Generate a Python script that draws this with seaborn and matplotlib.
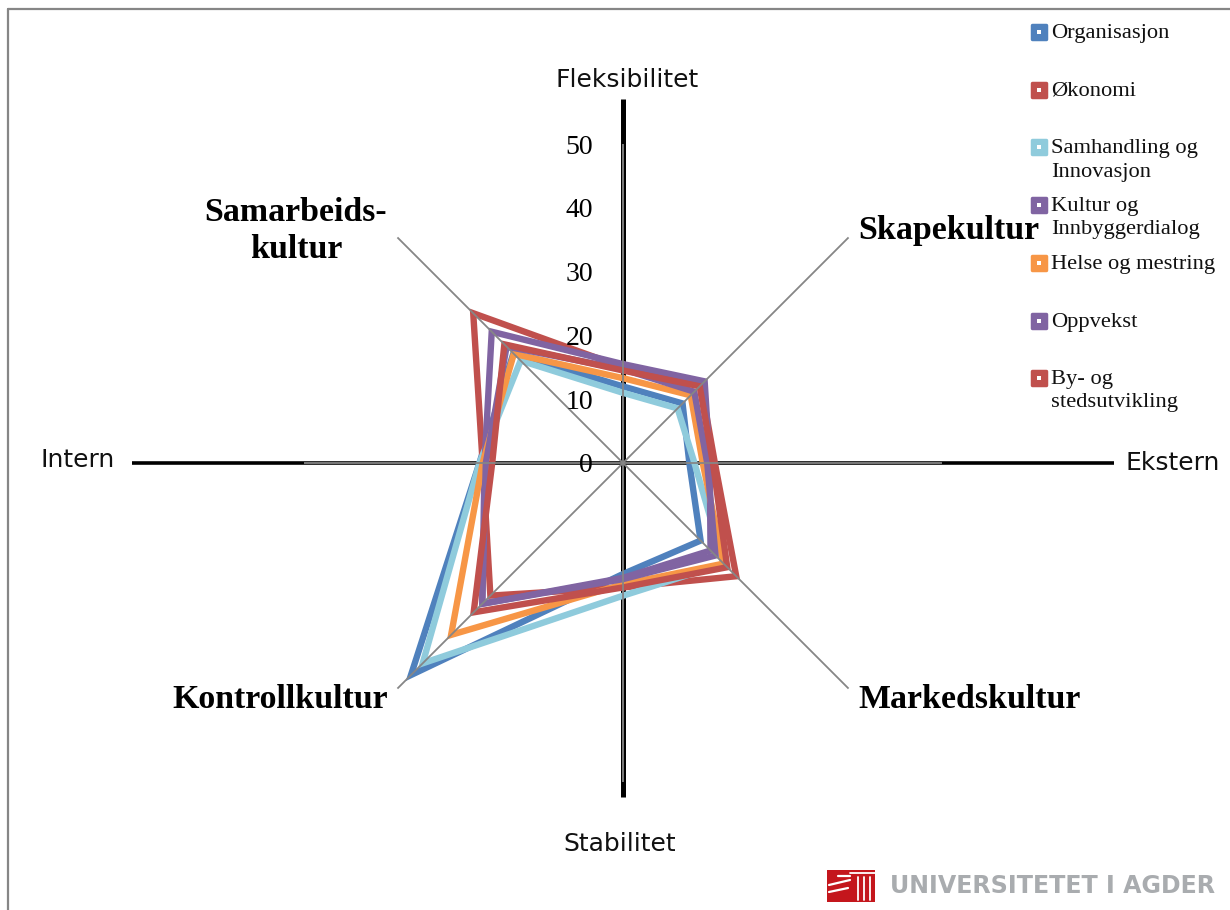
import numpy as np
import pandas as pd
import seaborn as sns
import matplotlib.pyplot as plt
from matplotlib.lines import Line2D
from matplotlib.markers import MarkerStyle
from matplotlib.patches import Rectangle

# Retningene rundt diagrammet, med klokka fra toppen
vinkler = [0, 45, 90, 135, 180, 225, 270, 315]

serier = ['Organisasjon', 'Økonomi', 'Samhandling og\nInnovasjon', 'Kultur og\nInnbyggerdialog',
          'Helse og mestring', 'Oppvekst', 'By- og\nstedsutvikling']
farger = ['#4F81BD', '#C0504D', '#8FCBDC', '#8064A2', '#F79646', '#8064A2', '#C0504D']

organisasjon = [12.0, 13.2, 10.4, 17.2, 17.4, 47.0, 22.5, 24.3]
okonomi = [15.0, 17.3, 14.4, 25.1, 19.5, 29.4, 22.0, 33.2]
samhandling = [11.0, 12.1, 11.2, 22.3, 20.8, 44.4, 22.5, 22.7]
kultur = [15.5, 18.1, 13.6, 19.4, 18.0, 31.2, 21.7, 29.1]
helse = [13.3, 15.0, 12.5, 22.3, 19.0, 38.1, 22.0, 24.2]
oppvekst = [14.7, 15.8, 13.2, 20.5, 18.2, 31.2, 21.5, 25.8]
by = [14.5, 17.0, 14.1, 23.1, 19.5, 33.1, 20.5, 26.3]
verdier = [organisasjon, okonomi, samhandling, kultur, helse, oppvekst, by]

r_ticks = [0, 10, 20, 30, 40, 50]

# Lang tabell, siste punkt lukker polygonet
rader = []
for navn, vals in zip(serier, verdier):
    for v, r in zip(vinkler + [360], vals + vals[:1]):
        rader.append({'vinkel': np.deg2rad(v), 'verdi': r, 'serie': navn})
df = pd.DataFrame(rader)

sns.set_theme(style='white')
plt.rcParams['font.family'] = ['Liberation Serif', 'DejaVu Serif']

W, H = 1230, 910
fig = plt.figure(figsize=(W / 100, H / 100), dpi=100)


def px(x, y):
    return x / W, 1 - y / H


# Senter (623, 463), 6.38 piksler per enhet
cx, cy, skala = 623, 463, 6.38
rmax = 80
rad = rmax * skala
ax = fig.add_axes([(cx - rad) / W, (H - cy - rad) / H, 2 * rad / W, 2 * rad / H], projection='polar')
ax.set_theta_zero_location('N')
ax.set_theta_direction(-1)
ax.set_ylim(0, rmax)
ax.grid(False)
ax.axis('off')

# Svarte akser under seriene
for v, lengde in [(0, 57), (90, 77), (180, 52.4), (270, 77)]:
    bredde = 3.6 if v in (0, 180) else 2.6
    ax.plot([np.deg2rad(v)] * 2, [0, lengde], color='black', lw=bredde, zorder=1, solid_capstyle='butt')

sns.lineplot(data=df, x='vinkel', y='verdi', hue='serie', hue_order=serier, palette=farger,
             sort=False, estimator=None, legend=False, ax=ax, lw=4.6, zorder=3,
             solid_joinstyle='miter')
ax.set_xlabel('')
ax.set_ylabel('')

# Grå eiker over seriene
for v in vinkler:
    ax.plot([np.deg2rad(v)] * 2, [0, 50], color='#868686', lw=1.3, zorder=4, solid_capstyle='butt')

for t in r_ticks:
    ax.annotate(str(t), xy=(0, t), xytext=(-30, -3), textcoords='offset pixels', ha='right', va='center',
                fontsize=20, color='black', zorder=5)

# Akseoverskrifter
akser = [('Fleksibilitet', 627, 80), ('Intern', 78, 460), ('Ekstern', 1173, 463), ('Stabilitet', 620, 844)]
for tekst, x, y in akser:
    fig.text(*px(x, y), tekst, ha='center', va='center', fontsize=18, family='DejaVu Sans', color='#111111')

kulturer = [('Samarbeids-\nkultur', 296, 231, 'center'), ('Skapekultur', 858, 231, 'left'),
            ('Markedskultur', 858, 700, 'left'), ('Kontrollkultur', 388, 700, 'right')]
for tekst, x, y, ha in kulturer:
    fig.text(*px(x, y), tekst, ha=ha, va='center', ma='center', fontsize=24.4, fontweight='bold', color='black',
             linespacing=1.25)

# Tegnforklaring
for i, (navn, farge) in enumerate(zip(serier, farger)):
    y = 32 + i * 57.7
    x0, y0 = px(1039, y)
    stil = MarkerStyle('s', joinstyle='round')
    fig.add_artist(Line2D([x0], [y0], marker=stil, ms=10, mfc=farge, mec=farge, mew=2.5, ls='none'))
    fig.add_artist(Line2D([x0], [y0], marker='s', ms=3.4, mfc='white', mec='white', mew=0, ls='none'))
    fig.text(*px(1051, y - 8), navn, ha='left', va='top', fontsize=16.2, color='#111111', linespacing=1.3)

# Ramme
ramme = '#868686'
fig.add_artist(Line2D([px(8, 0)[0], px(8, 0)[0]], [px(0, 9)[1], 0], color=ramme, lw=1.6))
fig.add_artist(Line2D([px(8, 0)[0], 1], [px(0, 9)[1], px(0, 9)[1]], color=ramme, lw=1.6))

# Logo
lx, ly = px(827, 902)
fig.add_artist(Rectangle((lx, ly), 48 / W, 32 / H, transform=fig.transFigure, color='#C4161C', lw=0))
for x1, y1, x2, y2 in [(858, 877, 858, 900), (864, 877, 864, 900), (870, 877, 870, 900), (850, 873, 875, 873)]:
    fig.add_artist(Line2D([px(x1, y1)[0], px(x2, y2)[0]], [px(x1, y1)[1], px(x2, y2)[1]], color='white', lw=1.3))
for x1, y1, x2, y2 in [(829, 885, 850, 880), (829, 892, 848, 888), (838, 876, 850, 876)]:
    fig.add_artist(Line2D([px(x1, y1)[0], px(x2, y2)[0]], [px(x1, y1)[1], px(x2, y2)[1]], color='white', lw=1.6))
fig.text(*px(890, 886), 'UNIVERSITETET I AGDER', ha='left', va='center', fontsize=17.1, family='DejaVu Sans',
         fontweight='bold', color='#A9ACAF')

plt.savefig('out.png', dpi=100)
